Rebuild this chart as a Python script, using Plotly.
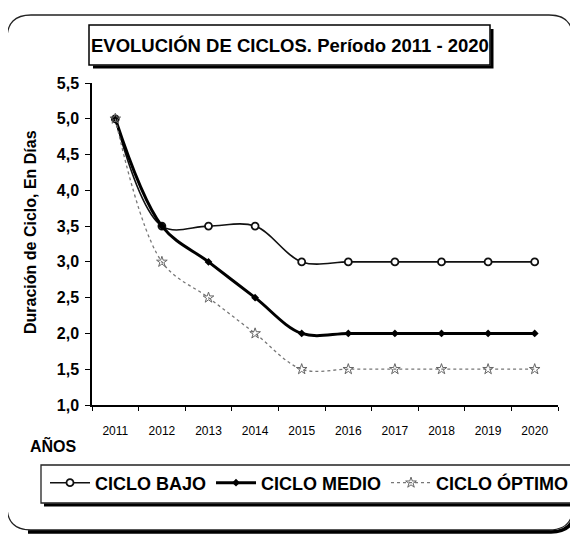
import plotly.graph_objects as go

# ---- data ----
years = ["2011", "2012", "2013", "2014", "2015", "2016", "2017", "2018", "2019", "2020"]
ciclo_bajo = [5.0, 3.5, 3.5, 3.5, 3.0, 3.0, 3.0, 3.0, 3.0, 3.0]
ciclo_medio = [5.0, 3.5, 3.0, 2.5, 2.0, 2.0, 2.0, 2.0, 2.0, 2.0]
ciclo_optimo = [5.0, 3.0, 2.5, 2.0, 1.5, 1.5, 1.5, 1.5, 1.5, 1.5]
series_names = ["CICLO BAJO", "CICLO MEDIO", "CICLO ÓPTIMO"]
y_ticks = [1.0, 1.5, 2.0, 2.5, 3.0, 3.5, 4.0, 4.5, 5.0, 5.5]
title_text = "EVOLUCIÓN DE CICLOS. Período 2011 - 2020"
y_title = "Duración de Ciclo, En Días"
x_title = "AÑOS"

# ---- layout geometry (screen pixels; page body has an 8px margin) ----
OFF = 8
W_FIG, H_FIG = 578 - OFF, 539 - OFF
PL, PR, PT, PB = 92, 558, 83, 405
PW, PH = PR - PL, PB - PT

def px(x):
    return (x - PL) / PW

def py(y):
    return (PB - y) / PH

FONT = "Liberation Sans, Arial, sans-serif"

fig = go.Figure()
fig.add_trace(go.Scatter(
    x=years, y=ciclo_bajo, name=series_names[0], mode="lines+markers",
    line=dict(color="#111111", width=1.6, shape="spline", smoothing=1),
    marker=dict(symbol="circle", size=7, color="white", line=dict(color="#111111", width=1.8)),
))
fig.add_trace(go.Scatter(
    x=years, y=ciclo_medio, name=series_names[1], mode="lines+markers",
    line=dict(color="#000000", width=3, shape="spline", smoothing=1),
    marker=dict(symbol="diamond", size=6, color="#000000"),
))
fig.add_trace(go.Scatter(
    x=years, y=ciclo_optimo, name=series_names[2], mode="lines+markers",
    line=dict(color="#777777", width=1.3, dash="dot", shape="spline", smoothing=1),
    marker=dict(symbol="star-open", size=8, color="#666666", line=dict(width=1)),
))

def fmt(points):
    s = ""
    for cmd, ps in points:
        s += cmd + " " + " ".join(f"{px(a):.5f},{py(b):.5f}" for a, b in ps) + " "
    return s

def rounded_rect_path(x0, y0, x1, y1, r):
    return fmt([
        ("M", [(x0 + r, y0)]),
        ("L", [(x1 - r, y0)]),
        ("Q", [(x1, y0), (x1, y0 + r)]),
        ("L", [(x1, y1 - r)]),
        ("Q", [(x1, y1), (x1 - r, y1)]),
        ("L", [(x0 + r, y1)]),
        ("Q", [(x0, y1), (x0, y1 - r)]),
        ("L", [(x0, y0 + r)]),
        ("Q", [(x0, y0), (x0 + r, y0)]),
    ]) + "Z"

shapes = []
# outer frame
shapes.append(dict(type="path", xref="paper", yref="paper", path=rounded_rect_path(7, 15, 573, 530, 24),
                   line=dict(color="#222222", width=1.3), layer="below"))
# outer frame shadow (right + bottom)
shapes.append(dict(type="path", xref="paper", yref="paper",
                   path=fmt([("M", [(575, 38)]), ("L", [(575, 508)]), ("Q", [(575, 532), (551, 532)]), ("L", [(28, 532)])]),
                   line=dict(color="#000000", width=3.5), layer="below"))
# title box
shapes.append(dict(type="rect", xref="paper", yref="paper", x0=px(89), x1=px(490), y0=py(25), y1=py(65),
                   line=dict(color="#000000", width=1.5), fillcolor="white", layer="below"))
shapes.append(dict(type="path", xref="paper", yref="paper",
                   path=fmt([("M", [(492, 29)]), ("L", [(492, 67)]), ("L", [(93, 67)])]),
                   line=dict(color="#000000", width=3), layer="below"))
# legend box
shapes.append(dict(type="path", xref="paper", yref="paper",
                   path=fmt([("M", [(575, 465)]), ("L", [(41, 465)]), ("L", [(41, 503)]), ("L", [(575, 503)])]),
                   line=dict(color="#222222", width=1.3), layer="below"))
shapes.append(dict(type="path", xref="paper", yref="paper",
                   path=fmt([("M", [(44, 505)]), ("L", [(575, 505)])]),
                   line=dict(color="#000000", width=3), layer="below"))

annotations = [
    dict(text=title_text, xref="paper", yref="paper", x=px(290), y=py(45),
         xanchor="center", yanchor="middle", showarrow=False,
         font=dict(family=FONT, size=18.5, color="#000000", weight="bold")),
    dict(text=y_title, xref="paper", yref="paper", x=px(30), y=py(232),
         xanchor="center", yanchor="middle", showarrow=False, textangle=-90,
         font=dict(family=FONT, size=16, color="#000000", weight="bold")),
    dict(text=x_title, xref="paper", yref="paper", x=px(53), y=py(445),
         xanchor="center", yanchor="middle", showarrow=False,
         font=dict(family=FONT, size=16, color="#000000", weight="bold")),
]

fig.update_layout(
    width=W_FIG, height=H_FIG,
    margin=dict(l=PL - OFF, r=W_FIG - (PR - OFF), t=PT - OFF, b=H_FIG - (PB - OFF), autoexpand=False),
    paper_bgcolor="white", plot_bgcolor="white",
    separators=",.",
    shapes=shapes, annotations=annotations,
    showlegend=True,
    legend=dict(orientation="h", x=px(45), y=py(483), xanchor="left", yanchor="middle",
                bgcolor="rgba(0,0,0,0)", borderwidth=0, itemwidth=40,
                font=dict(family=FONT, size=18, color="#000000", weight="bold"), itemclick=False),
    xaxis=dict(type="category", range=[-0.5, 9.5], showgrid=False, zeroline=False,
               showline=True, linecolor="#000000", linewidth=1.5,
               ticks="outside", ticklen=4, tickcolor="#000000", tickson="boundaries",
               ticklabelstandoff=14,
               tickfont=dict(family=FONT, size=12, color="#000000")),
    yaxis=dict(range=[1.0, 5.5], tickvals=y_ticks, tickformat=".1f", showgrid=False, zeroline=False,
               showline=True, linecolor="#000000", linewidth=1.5,
               ticks="outside", ticklen=5, tickcolor="#000000", ticklabelstandoff=3,
               tickfont=dict(family=FONT, size=16, color="#000000", weight="bold")),
)
fig.for_each_trace(lambda t: t.update(cliponaxis=False))

fig.write_html("out.html")
